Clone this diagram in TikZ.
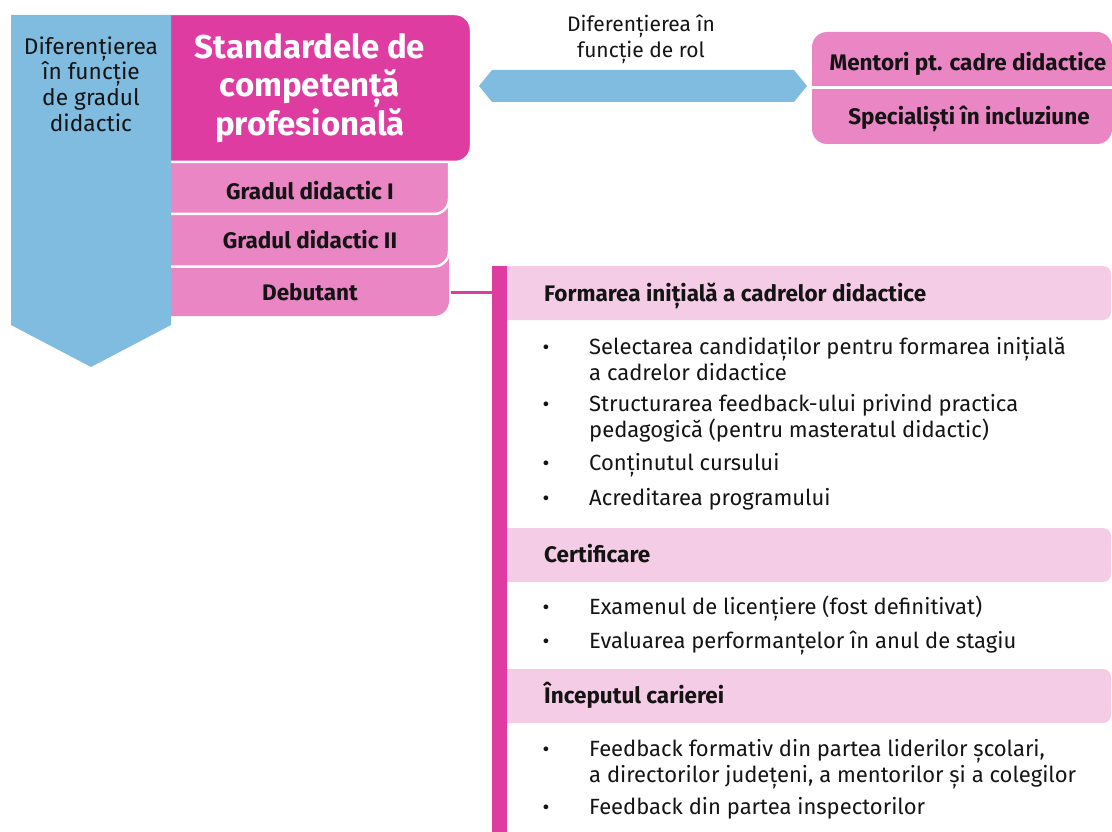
\documentclass[tikz,border=0pt]{standalone}
\usepackage{fontspec}
\setmainfont{Fira Sans}
\definecolor{diffblue}{RGB}{128,188,224}
\definecolor{stdmagenta}{RGB}{222,60,160}
\definecolor{rowpink}{RGB}{234,134,196}
\definecolor{bandpink}{RGB}{245,204,230}
\definecolor{ink}{RGB}{20,20,20}

\begin{document}
\begin{tikzpicture}
    [
      x=1pt, y=-1pt,
      bluetxt/.style={align=center, inner sep=0pt, text=ink, font=\fontsize{22.7}{25.7}\selectfont},
      roletxt/.style={align=center, inner sep=0pt, text=ink, font=\fontsize{21}{25.7}\selectfont},
      titletxt/.style={align=center, inner sep=0pt, text=white, font=\bfseries\fontsize{33}{38.5}\selectfont},
      rowtxt/.style={inner sep=0pt, text=ink, text height=15pt, text depth=0pt, font=\bfseries\fontsize{22.5}{26}\selectfont},
      headtxt/.style={anchor=base west, inner sep=0pt, text=ink, font=\bfseries\fontsize{22.5}{26}\selectfont},
      itemtxt/.style={anchor=base west, inner sep=0pt, text=ink, font=\fontsize{22}{25}\selectfont},
      dot/.style={anchor=base, inner sep=0pt, text=ink, font=\fontsize{21}{25}\selectfont},
      link/.style={draw=stdmagenta, line width=3pt}
    ]
    \useasboundingbox (0,0) rectangle (1112,832);

    % grade rows, drawn from the bottom up
    \fill [rowpink, rounded corners=15pt] (140,240) rectangle (449,316);
    \filldraw [fill=rowpink, draw=white, line width=2.5pt, rounded corners=15pt] (140,190) rectangle (449,266.5);
    \filldraw [fill=rowpink, draw=white, line width=2.5pt, rounded corners=15pt] (140,140) rectangle (449,214);
    \filldraw [fill=stdmagenta, draw=white, line width=2.5pt, rounded corners=16pt] (140,14) rectangle (471,162);

    % blue arrow down
    \fill [diffblue] (11,15) -- (171,15) -- (171,325) -- (91,367) -- (11,325) -- cycle;
    \node (blue-txt) [bluetxt] at (91,84) {Diferențierea\\în funcție\\de gradul\\didactic};

    \node (title) [titletxt] at (310,88) {Standardele de\\competență\\profesională};
    \node (grade-1) [rowtxt] at (310,192) {Gradul didactic I};
    \node (grade-2) [rowtxt] at (310,241) {Gradul didactic II};
    \node (debutant) [rowtxt] at (310,293) {Debutant};

    % role arrow and boxes
    \fill [diffblue] (479,86) -- (492,70) -- (794,70) -- (807,86) -- (794,102) -- (492,102) -- cycle;
    \node (role-txt) [roletxt] at (641,39) {Diferențierea în\\funcție de rol};
    \fill [rowpink, rounded corners=15pt] (812,32) rectangle (1112,144);
    \draw [white, line width=3pt] (812,87.5) -- (1112,87.5);
    \node (mentori) [rowtxt] at (968,63) {Mentori pt. cadre didactice};
    \node (specialisti) [rowtxt] at (969,117) {Specialiști în incluziune};

    % stages
    \fill [bandpink, rounded corners=8pt] (496,266) rectangle (1111,320);
    \fill [bandpink, rounded corners=8pt] (496,528) rectangle (1111,582);
    \fill [bandpink, rounded corners=8pt] (496,669) rectangle (1111,723);
    \coordinate (bar-top) at (499.5,266);
    \coordinate (bar-bottom) at (499.5,832);
    \draw [stdmagenta, line width=15pt] (bar-top) -- (bar-bottom);
    \coordinate (row-edge) at (451,292);
    \draw [link] (row-edge) -- (row-edge -| bar-top);

    \node (head-formare) [headtxt] at (544,301.5) {Formarea inițială a cadrelor didactice};
    \node (head-cert) [headtxt] at (544,562.5) {Certificare};
    \node (head-cariera) [headtxt] at (544,703.5) {Începutul carierei};

    \node (d-1) [dot] at (546,354) {•};
    \node (l-1) [itemtxt] at (589,354.5) {Selectarea candidaților pentru formarea inițială};
    \node (l-2) [itemtxt] at (589,380.5) {a cadrelor didactice};
    \node (d-2) [dot] at (546,411) {•};
    \node (l-3) [itemtxt] at (589,411.5) {Structurarea feedback-ului privind practica};
    \node (l-4) [itemtxt] at (589,437.5) {pedagogică (pentru masteratul didactic)};
    \node (d-3) [dot] at (546,470) {•};
    \node (l-5) [itemtxt] at (589,470.5) {Conținutul cursului};
    \node (d-4) [dot] at (546,505) {•};
    \node (l-6) [itemtxt] at (589,505.5) {Acreditarea programului};

    \node (d-5) [dot] at (546,614) {•};
    \node (l-7) [itemtxt] at (589,614.5) {Examenul de licențiere (fost definitivat)};
    \node (d-6) [dot] at (546,648) {•};
    \node (l-8) [itemtxt] at (589,648.5) {Evaluarea performanțelor în anul de stagiu};

    \node (d-7) [dot] at (546,756) {•};
    \node (l-9) [itemtxt] at (589,756.5) {Feedback formativ din partea liderilor școlari,};
    \node (l-10) [itemtxt] at (589,782.5) {a directorilor județeni, a mentorilor și a colegilor};
    \node (d-8) [dot] at (546,814) {•};
    \node (l-11) [itemtxt] at (589,814.5) {Feedback din partea inspectorilor};
\end{tikzpicture}
\end{document}
